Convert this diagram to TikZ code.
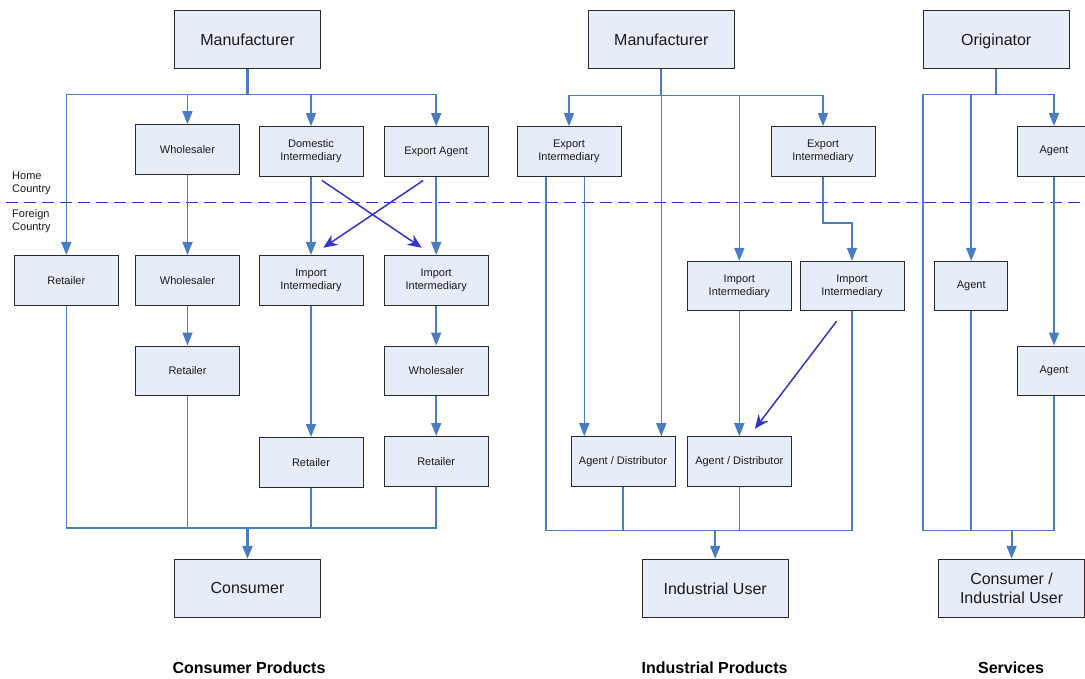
\documentclass[tikz,border=0pt]{standalone}
\usepackage{fontspec}
\setmainfont{Liberation Sans}
\usetikzlibrary{arrows.meta}
\definecolor{boxfill}{HTML}{E7EDF8}
\definecolor{boxline}{HTML}{2A2A2A}
\definecolor{linkblue}{HTML}{4A7CC6}
\definecolor{crossblue}{HTML}{3434CC}
\begin{document}
\begin{tikzpicture}[x=1pt,y=-1pt,
  box/.style={draw=boxline, line width=1pt, fill=boxfill, minimum width=104pt,
    minimum height=49.6pt, inner sep=0pt, align=center,
    font=\fontsize{11}{13}\selectfont, text=black!90},
  bigbox/.style={box, minimum width=146.4pt, minimum height=58pt,
    font=\fontsize{16}{19}\selectfont},
  agentbox/.style={box, minimum width=73.5pt},
  link/.style={draw=linkblue, line width=1.5pt},
  flow/.style={link, -{Triangle[length=13pt,width=10pt]}},
  cross/.style={draw=crossblue, line width=1.5pt, -{Stealth[length=14pt,width=12pt]}},
  sidelbl/.style={anchor=west, align=left, inner sep=0pt,
    font=\fontsize{11}{13}\selectfont, text=black!90},
  caption/.style={inner sep=0pt, font=\fontsize{16}{19}\selectfont\bfseries},
]
\useasboundingbox (0,0) rectangle (1085,679);
\clip (0,0) rectangle (1085,679);

% ---------- bus levels and free line positions ----------
\coordinate (topbusL) at (0,94.7);
\coordinate (botbusL) at (0,528);
\coordinate (topbusM) at (0,95.5);
\coordinate (botbusM) at (0,530.3);
\coordinate (topbusR) at (0,94.3);
\coordinate (botbusR) at (0,530.3);
\coordinate (eiL) at (546,0);
\coordinate (eiR) at (584.3,0);
\coordinate (railR) at (923,0);

% ---------- consumer products ----------
\node[bigbox] (m1)   at (247.5,39.7)  {Manufacturer};
\node[box]    (wh1)  at (187.5,149.5) {Wholesaler};
\node[box]    (dom)  at (311,151.5)   {Domestic\\Intermediary};
\node[box]    (exa)  at (436.2,151.5) {Export Agent};
\node[box]    (ret1) at (66.3,280.3)  {Retailer};
\node[box]    (wh2)  at (187.5,280.3) {Wholesaler};
\node[box]    (imp1) at (311,280.3)   {Import\\Intermediary};
\node[box]    (imp2) at (436.2,280.3) {Import\\Intermediary};
\node[box]    (ret2) at (187.5,370.8) {Retailer};
\node[box]    (wh3)  at (436.2,370.8) {Wholesaler};
\node[box]    (ret3) at (311,462.3)   {Retailer};
\node[box]    (ret4) at (436.2,461.3) {Retailer};
\node[bigbox] (cons) at (247.5,588.3) {Consumer};

% ---------- industrial products ----------
\node[bigbox] (m2)  at (661.3,39.7)  {Manufacturer};
\node[box]    (ei1) at (569,151.5)   {Export\\Intermediary};
\node[box]    (ei2) at (823,151.5)   {Export\\Intermediary};
\node[box]    (ii1) at (739.3,286.2) {Import\\Intermediary};
\node[box]    (ii2) at (852,286.2)   {Import\\Intermediary};
\node[box]    (ad1) at (623,461.5)   {Agent / Distributor};
\node[box]    (ad2) at (739.3,461.5) {Agent / Distributor};
\node[bigbox] (iu)  at (715.2,588.3) {Industrial User};

% ---------- services ----------
\node[bigbox]   (orig) at (996.2,39.7)  {\raisebox{0pt}[\height][0pt]{Originator}};
\node[agentbox] (ag1)  at (1054,151.3)  {Agent};
\node[agentbox] (ag2)  at (971.2,286.2) {Agent};
\node[agentbox] (ag3)  at (1054,370.8)  {Agent};
\node[bigbox]   (ciu)  at (1011.6,588.3) {Consumer /\\Industrial User};

% ---------- home / foreign border ----------
\coordinate (dashL) at (6,202.7);
\coordinate (dashR) at (1085,202.7);
\draw[draw=crossblue, line width=1.4pt, dash pattern=on 12pt off 6pt] (dashL) -- (dashR);
\node[sidelbl] (home) at (12,183.5) {Home\\Country};
\node[sidelbl] (foreign) at (12,221.5) {Foreign\\Country};

% ---------- consumer products connectors ----------
\draw[link, line width=2.4pt] (m1.south) -- (m1.south |- topbusL);
\draw[flow] (m1.south |- topbusL) -| (ret1.north);
\draw[flow] (m1.south |- topbusL) -| (wh1.north);
\draw[flow] (m1.south |- topbusL) -| (dom.north);
\draw[flow] (m1.south |- topbusL) -| (exa.north);
\draw[flow] (wh1) -- (wh2);
\draw[flow] (dom) -- (imp1);
\draw[flow] (exa) -- (imp2);
\draw[cross] ([shift={(11,3.7)}]dom.south) -- ([shift={(-14.5,-7.3)}]imp2.north);
\draw[cross] ([shift={(-13,3.7)}]exa.south) -- ([shift={(12.3,-7.3)}]imp1.north);
\draw[flow] (wh2) -- (ret2);
\draw[flow] (imp2) -- (wh3);
\draw[flow] (imp1) -- (ret3);
\draw[flow] (wh3) -- (ret4);
\draw[link] (ret1.south) |- (ret4.south |- botbusL) -- (ret4.south);
\draw[link] (ret2.south) -- (ret2.south |- botbusL);
\draw[link] (ret3.south) -- (ret3.south |- botbusL);
\draw[flow, line width=2.4pt] (cons.north |- botbusL) -- (cons.north);

% ---------- industrial products connectors ----------
\draw[link, line width=2.2pt] (m2.south) -- (m2.south |- topbusM);
\draw[flow] (m2.south |- topbusM) -| (ei1.north);
\draw[flow] (m2.south |- topbusM) -| (ei2.north);
\draw[flow] (m2.south |- topbusM) -| (ii1.north);
\draw[flow] (m2.south) -- (m2.south |- ad1.north);
\draw[flow] (ei1.south -| eiR) -- (ad1.north -| eiR);
\draw[link] (ei1.south -| eiL) |- (ii2.south |- botbusM) -- (ii2.south);
\draw[flow] (ei2.south) -- ++(0,46) -| (ii2.north);
\draw[flow] (ii1) -- (ad2);
\draw[cross] ([shift={(-15.4,9.7)}]ii2.south) -- ([shift={(15.6,-7.4)}]ad2.north);
\draw[link] (ad1.south) -- (ad1.south |- botbusM);
\draw[link] (ad2.south) -- (ad2.south |- botbusM);
\draw[flow, line width=1.9pt] (iu.north |- botbusM) -- (iu.north);

% ---------- services connectors ----------
\draw[link, line width=1.8pt] (orig.south) -- (orig.south |- topbusR);
\draw[link] (orig.south |- topbusR) -| (railR |- botbusR) -| (ag3.south);
\draw[flow] (orig.south |- topbusR) -| (ag2.north);
\draw[flow] (orig.south |- topbusR) -| (ag1.north);
\draw[flow] (ag1) -- (ag3);
\draw[link] (ag2.south) -- (ag2.south |- botbusR);
\draw[flow, line width=1.9pt] (ciu.north |- botbusR) -- (ciu.north);

% ---------- captions ----------
\node[caption] (capA) at (249,668) {Consumer Products};
\node[caption] (capB) at (714.6,668) {Industrial Products};
\node[caption] (capC) at (1011,668) {Services};
\end{tikzpicture}
\end{document}
